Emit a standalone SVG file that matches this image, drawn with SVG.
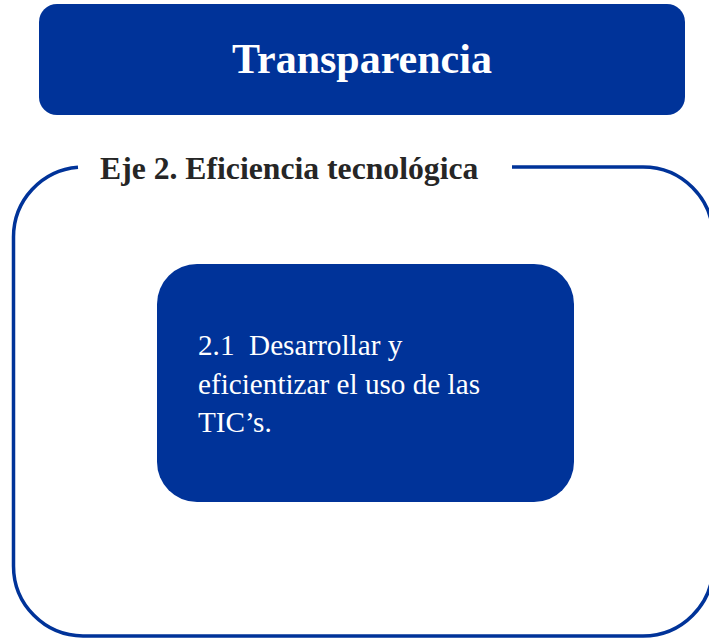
<svg xmlns="http://www.w3.org/2000/svg" width="709" height="638" viewBox="0 0 709 638">
<style>
.box{fill:#003399}
.frame{fill:none;stroke:#003399;stroke-width:3.5}
.serif{font-family:"Liberation Serif","Times New Roman",serif}
</style>
<rect width="709" height="638" fill="#ffffff"/>
<g id="connectors"></g>
<g id="header">
<rect class="box" x="39" y="4" width="646" height="111" rx="18"/>
<text class="serif" x="362" y="73" font-size="42" font-weight="bold" fill="#ffffff" text-anchor="middle">Transparencia</text>
</g>
<g id="eje2">
<path class="frame" d="M 512 167 H 643 A 70 70 0 0 1 713 237 V 566 A 70 70 0 0 1 643 636 H 83 A 70 70 0 0 1 13.5 566 V 237 A 70 70 0 0 1 78 167.2"/>
<text class="serif" x="100" y="179" font-size="31.7" font-weight="bold" fill="#262626">Eje 2. Eficiencia tecnológica</text>
</g>
<g id="item21">
<rect class="box" x="157" y="264" width="417" height="238" rx="40"/>
<text class="serif" font-size="29.2" fill="#ffffff">
<tspan x="198" y="355">2.1&#160; Desarrollar y</tspan>
<tspan x="198" y="393.5">eficientizar el uso de las</tspan>
<tspan x="198" y="432">TIC’s.</tspan>
</text>
</g>
</svg>
